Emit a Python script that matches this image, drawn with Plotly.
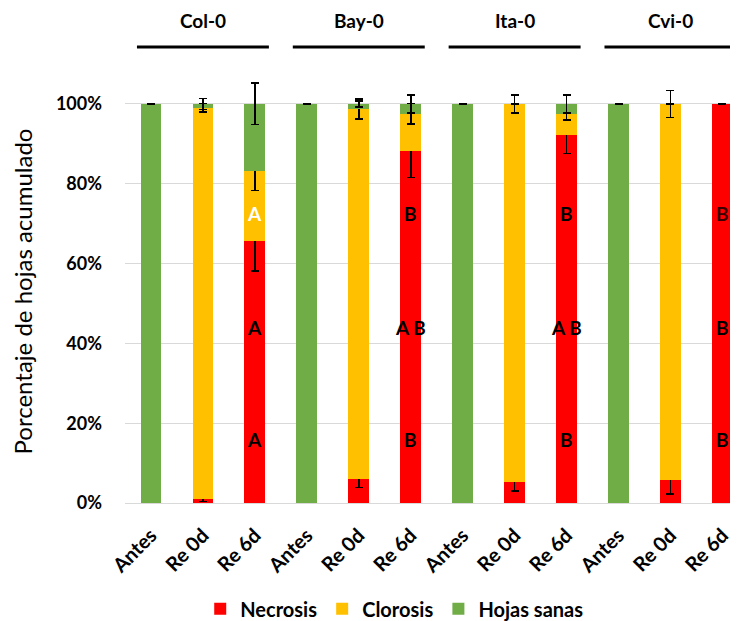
import plotly.graph_objects as go

# ---- data ----
groups = ["Col-0", "Bay-0", "Ita-0", "Cvi-0"]
tick_labels = ["Antes", "Re 0d", "Re 6d"] * 4
necrosis = [0, 1.0, 65.7, 0, 6.1, 88.1, 0, 5.3, 92.1, 0, 5.8, 100]
clorosis = [0, 98.0, 17.4, 0, 92.7, 9.4, 0, 94.7, 5.4, 0, 94.2, 0]
sanas = [100, 1.0, 16.9, 100, 1.2, 2.5, 100, 0, 2.5, 100, 0, 0]
err_necrosis = [0, 0.6, 7.6, 0, 2.2, 6.5, 0, 2.3, 4.5, 0, 3.5, 0]
err_clorosis = [0, 1.0, 4.8, 0, 2.5, 2.5, 0, 2.3, 1.5, 0, 3.4, 0]
err_sanas = [0, 1.4, 5.2, 0, 0.8, 2.3, 0, 0, 2.2, 0, 0, 0]
# significance letters: (bar index, y value, text, colour)
letters = [
    (2, 72.5, "A", "white"), (2, 44, "A", "black"), (2, 16, "A", "black"),
    (5, 72.5, "B", "black"), (5, 44, "A B", "black"), (5, 16, "B", "black"),
    (8, 72.5, "B", "black"), (8, 44, "A B", "black"), (8, 16, "B", "black"),
    (11, 72.5, "B", "#3a0000"), (11, 44, "B", "black"), (11, 16, "B", "black"),
]

FONT = "Lato"
x = list(range(len(tick_labels)))

fig = go.Figure()
series = [
    ("Necrosis", necrosis, err_necrosis, "#FF0000"),
    ("Clorosis", clorosis, err_clorosis, "#FFC000"),
    ("Hojas sanas", sanas, err_sanas, "#70AD47"),
]
for name, vals, errs, col in series:
    fig.add_trace(go.Bar(
        x=x, y=vals, name=f"<b>{name}</b>", marker=dict(color=col, line=dict(width=0)),
        width=0.4,
        error_y=dict(type="data", array=errs, visible=True, color="black",
                     thickness=1.6, width=4),
        cliponaxis=False,
    ))

for i, yv, txt, col in letters:
    fig.add_annotation(x=i, y=yv, xref="x", yref="y", text=f"<b>{txt}</b>",
                       showarrow=False, font=dict(family=FONT, size=19, color=col))

for g, name in enumerate(groups):
    c = g * 3 + 1
    fig.add_annotation(x=c, y=1.14, xref="x", yref="paper", text=f"<b>{name}</b>",
                       showarrow=False, yanchor="middle", xanchor="center",
                       font=dict(family=FONT, size=19, color="black"))
    fig.add_shape(type="line", xref="x", yref="paper", x0=c - 1.27, x1=c + 1.27,
                  y0=1.078, y1=1.078, line=dict(color="black", width=3))

fig.update_layout(
    width=730, height=613,
    margin=dict(l=117, r=0, t=72, b=118, autoexpand=False),
    barmode="stack",
    plot_bgcolor="white", paper_bgcolor="white",
    font=dict(family=FONT, color="black"),
    showlegend=True,
    legend=dict(orientation="h", x=0.44, xanchor="center", y=-0.25, yanchor="middle",
                font=dict(family=FONT, size=20, color="black"), traceorder="normal",
                itemwidth=30),
)
fig.update_xaxes(
    range=[-0.5, 11.3], tickmode="array", tickvals=x,
    ticktext=[f"<b>{t}</b>" for t in tick_labels], tickangle=-45,
    tickfont=dict(family=FONT, size=20, color="black"),
    showgrid=False, zeroline=False, showline=False, ticks="",
    ticklabelstandoff=16, automargin=False,
)
fig.update_yaxes(
    range=[0, 106], tickmode="array", tickvals=[0, 20, 40, 60, 80, 100],
    ticktext=[f"<b>{v}%</b>" for v in [0, 20, 40, 60, 80, 100]],
    tickfont=dict(family=FONT, size=18, color="black"),
    showgrid=True, gridcolor="#D9D9D9", gridwidth=1,
    zeroline=True, zerolinecolor="#D9D9D9", zerolinewidth=1,
    ticklabelstandoff=22, automargin=False,
    title=dict(text="Porcentaje de hojas acumulado", standoff=18,
               font=dict(family=FONT, size=24, color="black")),
)

fig.write_html("out.html")
